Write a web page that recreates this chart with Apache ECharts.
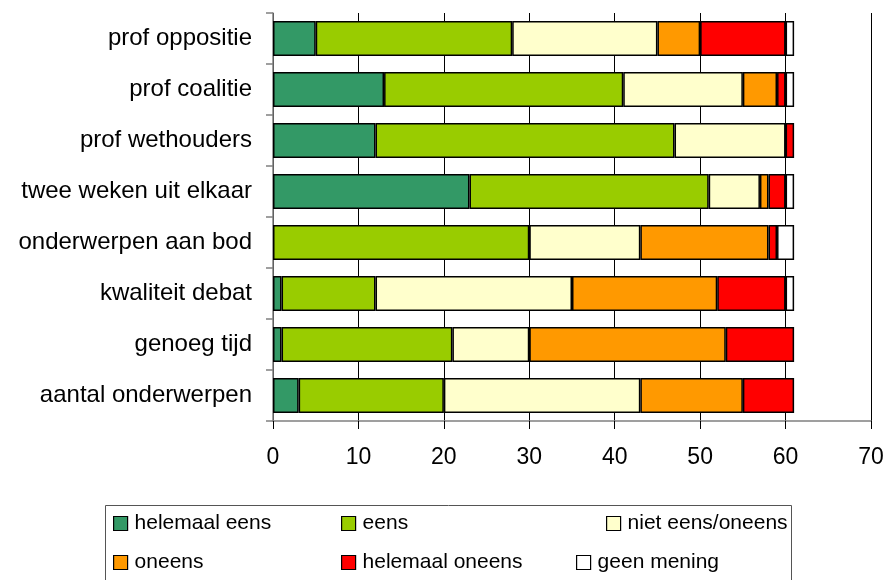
<!DOCTYPE html>
<html>
<head>
<meta charset="utf-8">
<script src="https://cdn.jsdelivr.net/npm/echarts@6/dist/echarts.min.js"></script>
<style>
html,body{margin:0;padding:0;background:#fff;}
#chart{width:887px;height:580px;}
</style>
</head>
<body>
<div id="chart"></div>
<script>
// Categories (top to bottom)
var categories = ['prof oppositie','prof coalitie','prof wethouders','twee weken uit elkaar','onderwerpen aan bod','kwaliteit debat','genoeg tijd','aantal onderwerpen'];
var seriesNames = ['helemaal eens','eens','niet eens/oneens','oneens','helemaal oneens','geen mening'];
var helemaalEens   = [5, 13, 12, 23, 0, 1, 1, 3];
var eens           = [23, 28, 35, 28, 30, 11, 20, 17];
var nietEensOneens = [17, 14, 13, 6, 13, 23, 9, 23];
var oneens         = [5, 4, 0, 1, 15, 17, 23, 12];
var helemaalOneens = [10, 1, 1, 2, 1, 8, 8, 6];
var geenMening     = [1, 1, 0, 1, 2, 1, 0, 0];
var xTicks = [0, 10, 20, 30, 40, 50, 60, 70];

var colors = ['#339966','#99CC00','#FFFFCC','#FF9900','#FF0000','#FFFFFF'];
var values = [helemaalEens, eens, nietEensOneens, oneens, helemaalOneens, geenMening];

var chart = echarts.init(document.getElementById('chart'));
var FONT = '"Liberation Sans", Arial, sans-serif';

var series = seriesNames.map(function(n, i){
  return {
    name: n, type: 'bar', stack: 'total',
    barCategoryGap: '31%',
    itemStyle: {color: colors[i], borderColor: '#000', borderWidth: 1.5},
    emphasis: {disabled: true},
    data: values[i].map(function(v){ return v === 0 ? null : v; })
  };
});

var legendPos = [
  {left: 113, top: 513}, {left: 341, top: 513}, {left: 606, top: 513},
  {left: 113, top: 552}, {left: 341, top: 552}, {left: 576, top: 552}
];
var legends = seriesNames.map(function(n, i){
  return {
    data: [n], left: legendPos[i].left, top: legendPos[i].top,
    padding: 0, itemWidth: 14, itemHeight: 14, itemGap: 0,
    icon: 'rect', selectedMode: false,
    itemStyle: {borderColor: '#000', borderWidth: 1.2},
    textStyle: {fontFamily: FONT, fontSize: 21, color: '#000', padding: [0,0,0,2]}
  };
});

chart.setOption({
  animation: false,
  backgroundColor: '#fff',
  grid: {left: 273, top: 13, right: 16, bottom: 159, containLabel: false},
  xAxis: {
    type: 'value', min: xTicks[0], max: xTicks[xTicks.length-1], interval: 10,
    axisLine: {show: true, lineStyle: {color: '#808080', width: 1.5}},
    axisTick: {show: true, length: 8, lineStyle: {color: '#000'}},
    axisLabel: {fontFamily: FONT, fontSize: 23, color: '#000', margin: 25},
    splitLine: {show: true, lineStyle: {color: '#000', width: 1}}
  },
  yAxis: {
    type: 'category', data: categories, inverse: true,
    axisLine: {show: true, lineStyle: {color: '#808080', width: 1.5}},
    axisTick: {show: true, length: 7, lineStyle: {color: '#808080', width: 1.5}},
    axisLabel: {fontFamily: FONT, fontSize: 24, color: '#000', margin: 21},
    splitLine: {show: false}
  },
  legend: legends,
  graphic: [{
    type: 'rect', left: 103, top: 503,
    shape: {width: 686, height: 90},
    style: {fill: 'none', stroke: '#555', lineWidth: 1},
    silent: true
  }],
  series: series
});
</script>
</body>
</html>
